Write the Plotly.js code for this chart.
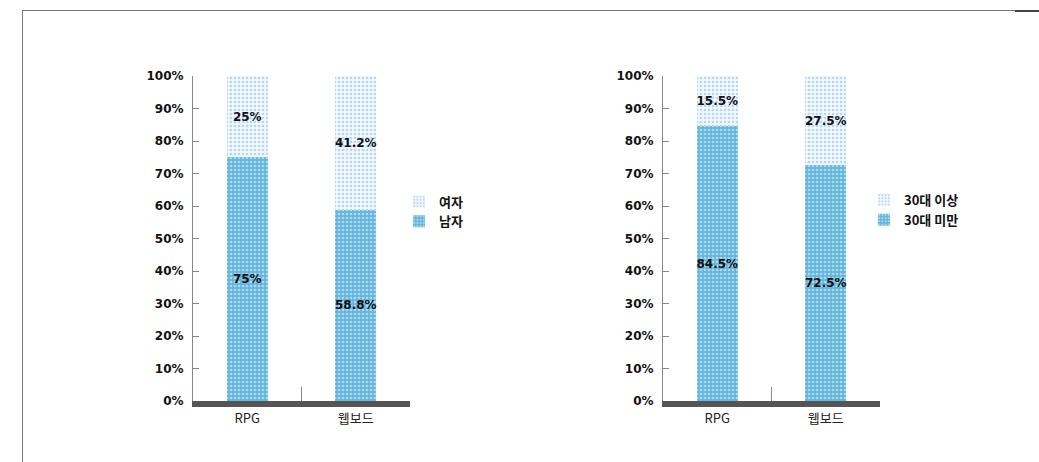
<!DOCTYPE html>
<html>
<head>
<meta charset="utf-8">
<script src="https://cdn.plot.ly/plotly-3.0.1.min.js"></script>
<style>
  html, body { margin:0; padding:0; background:#fff; }
  #wrap { position:relative; width:1039px; height:462px; }
  #chart { position:absolute; left:0; top:0; width:1039px; height:462px; }
  #frame { position:absolute; left:22px; top:10px; width:993px; height:460px;
           border-left:1px solid #777; border-top:1px solid #777; }
  #corner { position:absolute; left:1015px; top:10px; width:24px; height:2px; background:#444; }
</style>
</head>
<body>
<div id="wrap">
  <div id="chart"></div>
  <div id="frame"></div>
  <div id="corner"></div>
</div>
<script>
// ---- data ----
const categories = ['RPG', '웹보드'];
const genderNames = ['남자', '여자'];
const maleValues = [75, 58.8];
const femaleValues = [25, 41.2];
const ageNames = ['30대 미만', '30대 이상'];
const under30Values = [84.5, 72.5];
const over30Values = [15.5, 27.5];
const yTickValues = [0,10,20,30,40,50,60,70,80,90,100];
const yTickLabels = yTickValues.map(v => v + '%');

const darkColor = '#68b4dc';
const darkDots = '#a6def0';
const lightColor = '#f1f9fd';
const lightDots = '#b9d6f2';
const labelFont = {family:'DejaVu Sans, sans-serif', size:12, color:'#111', weight:'bold'};
const barWidth = 0.38;

function bar(name, y, xa, ya, leg, col, dots, dotSize) {
  return {
    type:'bar', name:name, x:categories, y:y, xaxis:xa, yaxis:ya, legend:leg,
    width:barWidth,
    marker:{color:col, line:{width:0}, pattern:{shape:'.', fgcolor:dots, bgcolor:col, size:dotSize, solidity:0.35}},
    text:y.map(v => v + '%'), textposition:'inside', insidetextanchor:'middle',
    textfont:labelFont, insidetextfont:labelFont, constraintext:'none', textangle:0,
    hoverinfo:'skip'
  };
}

const traces = [
  bar(genderNames[0], maleValues, 'x', 'y', 'legend', darkColor, darkDots, 4),
  bar(genderNames[1], femaleValues, 'x', 'y', 'legend', lightColor, lightDots, 4),
  bar(ageNames[0], under30Values, 'x2', 'y2', 'legend2', darkColor, darkDots, 4),
  bar(ageNames[1], over30Values, 'x2', 'y2', 'legend2', lightColor, lightDots, 4)
];

const tickFont = {family:'DejaVu Sans, sans-serif', size:12, color:'#111', weight:'bold'};
const catFont = {family:'Noto Sans CJK KR, DejaVu Sans, sans-serif', size:13, color:'#222'};

function xaxis(domain) {
  return {
    domain:domain, range:[-0.5, 1.5], type:'category',
    showline:true, linecolor:'#555', linewidth:6, mirror:false,
    ticks:'inside', tickson:'boundaries', ticklen:14, tickcolor:'#888', tickwidth:1,
    showgrid:false, zeroline:false, tickfont:catFont, fixedrange:true
  };
}
function yaxis(anchor) {
  return {
    anchor:anchor, range:[0, 100], tickvals:yTickValues, ticktext:yTickLabels,
    showline:true, linecolor:'#888', linewidth:1,
    ticks:'inside', ticklen:6, tickcolor:'#888',
    showgrid:false, zeroline:false, tickfont:tickFont, ticklabelstandoff:6, fixedrange:true
  };
}

const legendFont = {family:'Noto Sans CJK KR, sans-serif', size:13, color:'#111', weight:'bold'};
const layout = {
  width:1039, height:462,
  margin:{l:0, r:0, t:76, b:61},
  paper_bgcolor:'rgba(0,0,0,0)', plot_bgcolor:'rgba(0,0,0,0)',
  barmode:'stack',
  showlegend:true,
  xaxis:xaxis([193/1039, 410/1039]),
  yaxis:yaxis('x'),
  xaxis2:xaxis([663/1039, 880/1039]),
  yaxis2:yaxis('x2'),
  legend:{x:399/1039, y:0.66, xanchor:'left', yanchor:'top', traceorder:'reversed',
          font:legendFont, bgcolor:'rgba(0,0,0,0)', itemwidth:30, tracegroupgap:0},
  legend2:{x:864/1039, y:0.665, xanchor:'left', yanchor:'top', traceorder:'reversed',
          font:legendFont, bgcolor:'rgba(0,0,0,0)', itemwidth:30, tracegroupgap:0}
};

Plotly.newPlot('chart', traces, layout, {staticPlot:true, displayModeBar:false});
</script>
</body>
</html>
